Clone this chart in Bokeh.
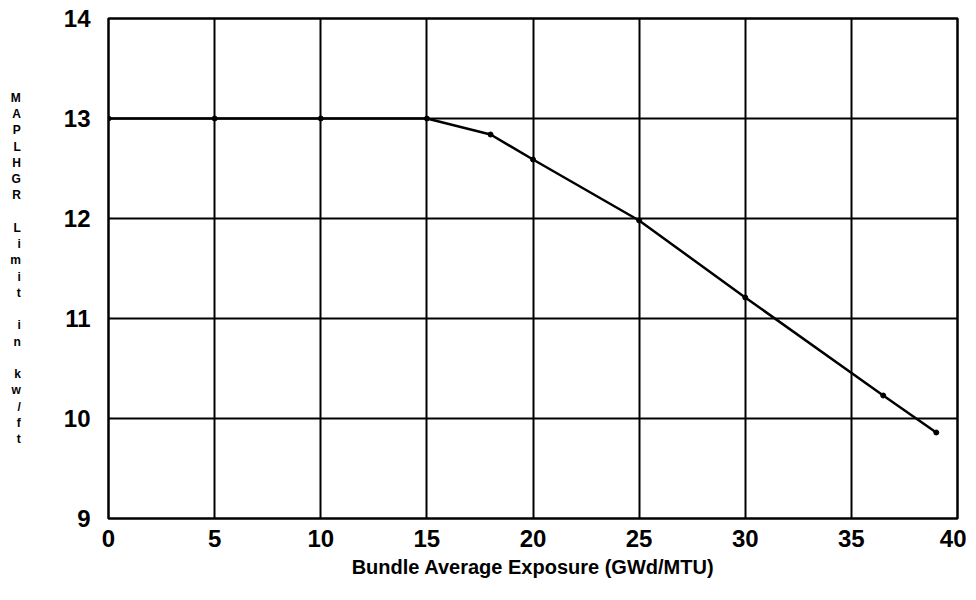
from bokeh.plotting import figure
from bokeh.models import Range1d, FixedTicker
from bokeh.embed import file_html
from bokeh.resources import INLINE

exposure = [0, 5, 10, 15, 18, 20, 25, 30, 36.5, 39]
maplhgr = [13.0, 13.0, 13.0, 13.0, 12.84, 12.59, 11.98, 11.21, 10.23, 9.86]
x_ticks = [0, 5, 10, 15, 20, 25, 30, 35, 40]
y_ticks = [9, 10, 11, 12, 13, 14]
x_title = "Bundle Average Exposure (GWd/MTU)"
y_title_words = ["MAPLHGR", "Limit", "in", "kw/ft"]

FONT = "Liberation Sans"

p = figure(width=966, height=592, output_backend="svg", toolbar_location=None,
           x_range=Range1d(0, 40), y_range=Range1d(9, 14))
p.min_border_left = 108
p.min_border_right = 9
p.min_border_top = 18
p.min_border_bottom = 74
p.background_fill_color = "white"
p.border_fill_color = "white"
p.outline_line_color = "black"
p.outline_line_width = 2.5

p.xaxis.ticker = FixedTicker(ticks=x_ticks)
p.yaxis.ticker = FixedTicker(ticks=y_ticks)
for ax in (p.xaxis, p.yaxis):
    ax.axis_line_color = None
    ax.major_tick_line_color = None
    ax.minor_tick_line_color = None
    ax.major_label_text_font = FONT
    ax.major_label_text_font_style = "bold"
    ax.major_label_text_font_size = "24px"
    ax.major_label_text_color = "black"
p.xaxis.major_label_standoff = 5
p.yaxis.major_label_standoff = 12

p.xaxis.axis_label = x_title
p.xaxis.axis_label_text_font = FONT
p.xaxis.axis_label_text_font_style = "bold"
p.xaxis.axis_label_text_font_size = "20px"
p.xaxis.axis_label_text_color = "black"
p.xaxis.axis_label_standoff = 6

# vertical stacked y-axis title (one character per line, blank line between words)
p.yaxis.axis_label = "\n\n".join("\n".join(w) for w in y_title_words)
p.yaxis.axis_label_orientation = "horizontal"
p.yaxis.axis_label_text_font = FONT
p.yaxis.axis_label_text_font_style = "bold"
p.yaxis.axis_label_text_font_size = "12px"
p.yaxis.axis_label_text_line_height = 1.16
p.yaxis.axis_label_text_color = "black"
p.yaxis.axis_label_text_align = "center"
p.yaxis.axis_label_standoff = 40

p.grid.grid_line_color = "black"
p.grid.grid_line_width = 2
p.grid.grid_line_alpha = 1.0

p.line(exposure, maplhgr, line_color="black", line_width=2.5)
p.scatter(exposure, maplhgr, size=5, color="black")

open("out.html", "w").write(file_html(p, INLINE))
